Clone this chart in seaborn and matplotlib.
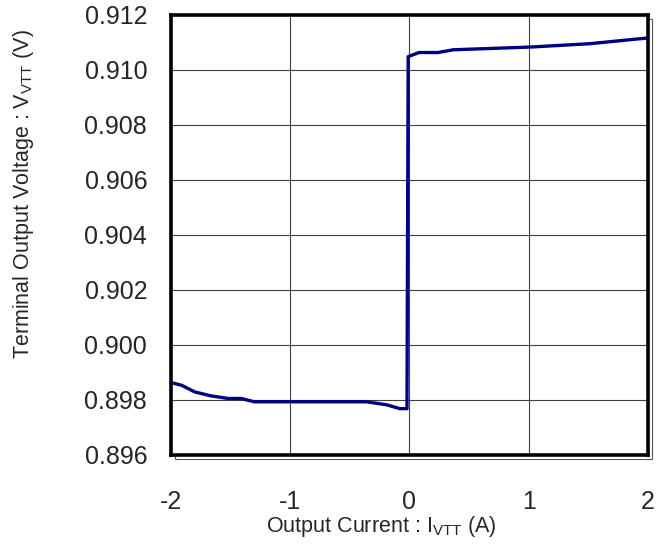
import numpy as np
import pandas as pd
import seaborn as sns
import matplotlib.pyplot as plt
from matplotlib.patches import Rectangle
import matplotlib.transforms as mtransforms

# load regulation curve
current = [-2.0, -1.91, -1.80, -1.67, -1.52, -1.41, -1.30, -0.36, -0.19, -0.08, -0.02,
           -0.01, 0.08, 0.24, 0.37, 1.02, 1.51, 2.0]
voltage = [0.89863, 0.89853, 0.89829, 0.89815, 0.89805, 0.89805, 0.89793, 0.89793, 0.89782,
           0.89768, 0.89768, 0.91048, 0.91063, 0.91063, 0.91073, 0.91083, 0.91095, 0.91116]

xticks = [-2, -1, 0, 1, 2]
yticks = [0.896, 0.898, 0.900, 0.902, 0.904, 0.906, 0.908, 0.910, 0.912]

sns.set_style('white')
plt.rcParams['font.family'] = ['Liberation Sans', 'DejaVu Sans']
plt.rcParams['mathtext.fontset'] = 'custom'
plt.rcParams['mathtext.rm'] = 'Liberation Sans'

df = pd.DataFrame({'I': current, 'V': voltage})

fig = plt.figure(figsize=(6.7, 5.5), dpi=100)
ax = fig.add_axes([0.255, 0.173, 0.712, 0.80])

# shadow frame, offset down/right
off = mtransforms.offset_copy(ax.transAxes, fig=fig, x=4, y=-4, units='dots')
ax.add_patch(Rectangle((0, 0), 1, 1, transform=off, fill=False, lw=0.8,
                       edgecolor='#555555', clip_on=False, zorder=0))
ax.add_patch(Rectangle((0, 0), 1, 1, transform=ax.transAxes, fill=True, lw=0,
                       facecolor='white', clip_on=False, zorder=0.5))

sns.lineplot(data=df, x='I', y='V', ax=ax, sort=False, estimator=None,
             color='#000080', lw=2.4, zorder=3)

ax.set_xlim(-2, 2)
ax.set_ylim(0.896, 0.912)
ax.set_xticks(xticks)
ax.set_yticks(yticks)
ax.set_xticklabels([str(t) for t in xticks])
ax.set_yticklabels([f'{t:.3f}' for t in yticks])
ax.grid(True, color='#404040', lw=0.8)
ax.set_axisbelow(True)

for s in ax.spines.values():
    s.set_visible(True)
    s.set_color('black')
    s.set_linewidth(2.6)
    s.set_zorder(4)

ax.tick_params(axis='x', direction='out', length=4, width=0.8, color='#555555',
               pad=21, labelsize=18)
ax.tick_params(axis='y', direction='out', length=0, pad=17, labelsize=18)

ax.set_xlabel(r'Output Current : I$_{\mathrm{VTT}}$ (A)', fontsize=15.5)
ax.set_ylabel(r'Terminal Output Voltage : V$_{\mathrm{VTT}}$ (V)', fontsize=15.5)
ax.xaxis.set_label_coords(0.442, -0.134)
ax.yaxis.set_label_coords(-0.283, 0.593)

fig.savefig('out.png', dpi=100)
